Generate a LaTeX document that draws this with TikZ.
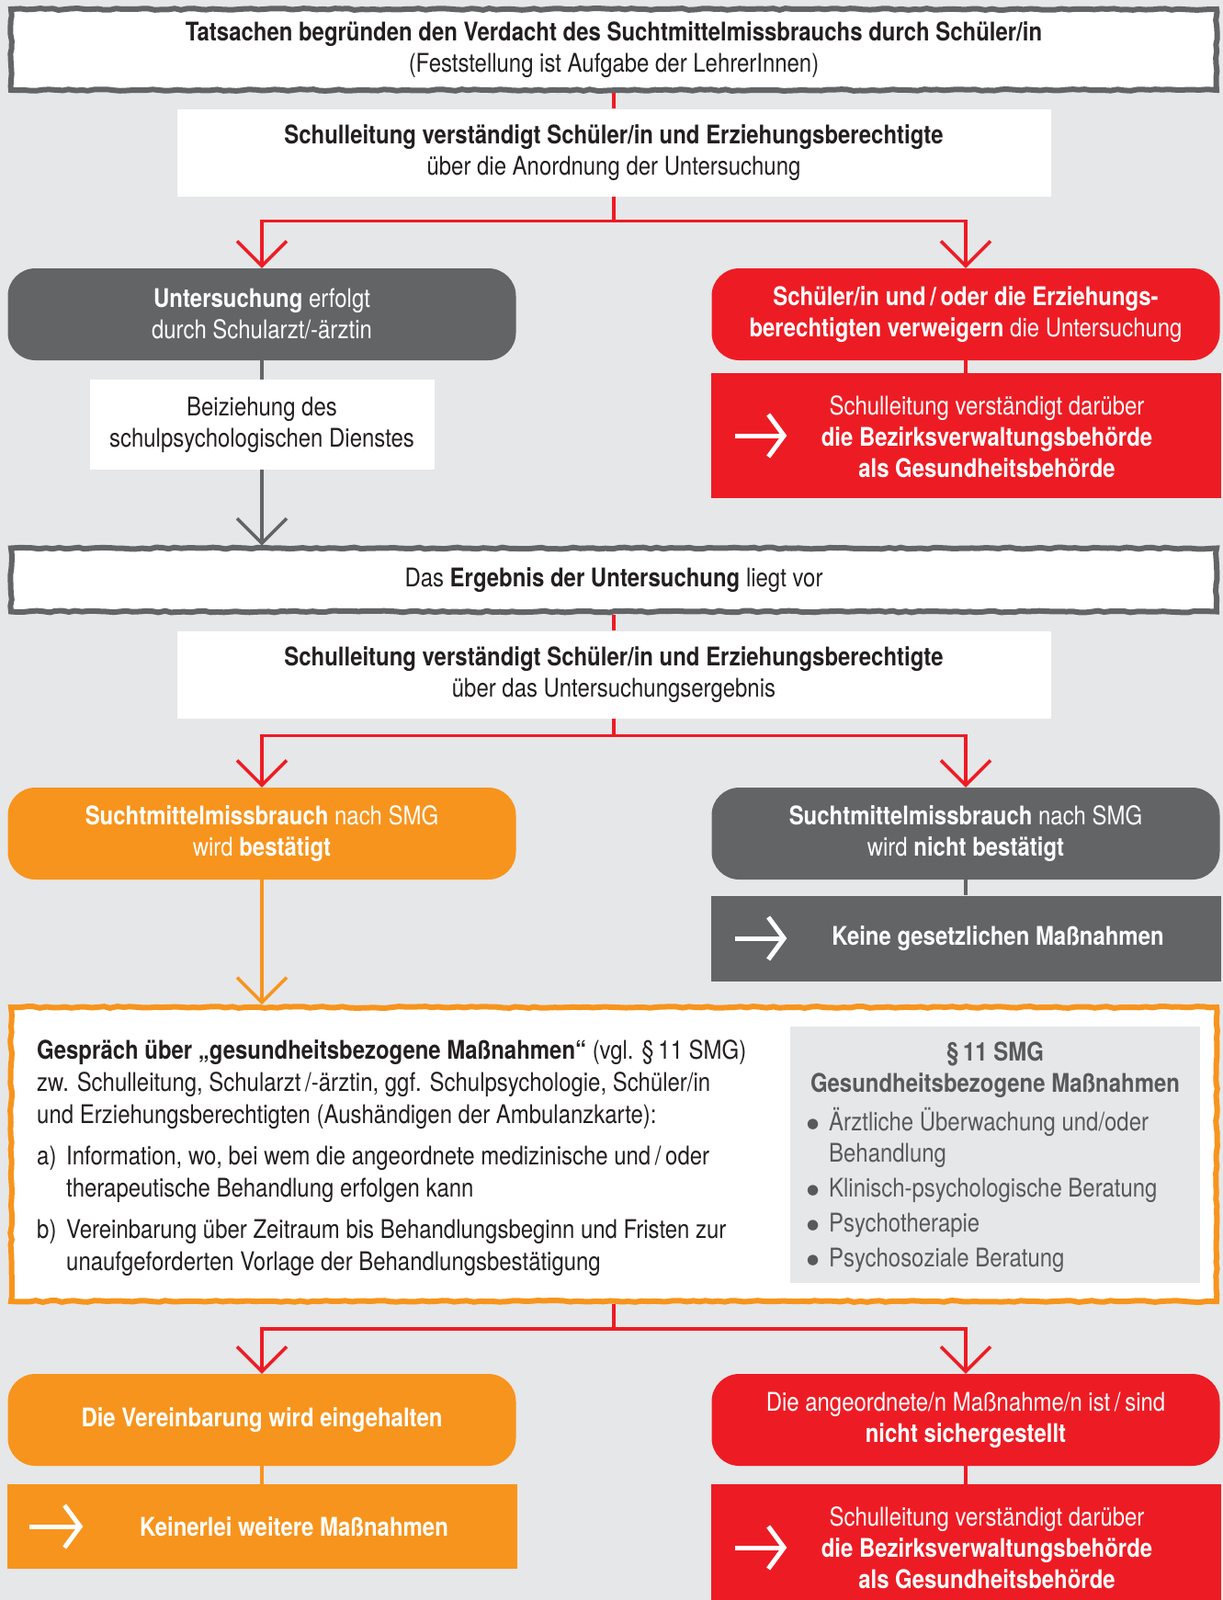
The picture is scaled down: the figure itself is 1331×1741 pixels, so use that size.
\documentclass[tikz,border=0pt]{standalone}
\usepackage{fontspec}
\setmainfont{TeX Gyre Heros}[FakeStretch=0.855]
\newfontfamily\dotfont{DejaVu Sans}
\usetikzlibrary{positioning,arrows.meta,decorations.pathmorphing}

\definecolor{bggrey}{HTML}{E6E7E8}
\definecolor{darkgrey}{HTML}{636466}
\definecolor{alarmred}{HTML}{ED1C24}
\definecolor{okorange}{HTML}{F7941D}
\definecolor{ink}{HTML}{231F20}
\definecolor{lawgrey}{HTML}{58595B}

\tikzset{
  rough/.style={decorate,decoration={random steps,segment length=7pt,amplitude=0.9pt}},
  headframe/.style={draw=darkgrey,line width=6pt,fill=white,rough,minimum width=1312pt,text=ink},
  infobox/.style={fill=white,text=ink,minimum width=951pt,minimum height=95pt},
  roundbox/.style={rounded corners=30pt,minimum width=553pt,minimum height=100pt,text=white},
  actionbox/.style={minimum width=555pt},
  redlink/.style={draw=alarmred,line width=3.5pt},
  greylink/.style={draw=darkgrey,line width=3.5pt},
  orangelink/.style={draw=okorange,line width=3.5pt},
  vhead/.style={-{Straight Barb[length=27pt,width=54pt]}},
  chalkarrow/.style={draw=white,line width=5pt,-{Straight Barb[length=17pt,width=46pt]}}
}
\newcommand{\smgitem}{\makebox[24pt][l]{\raisebox{2.5pt}{\dotfont\fontsize{15}{15}\selectfont ●}}}

\begin{document}
\begin{tikzpicture}[x=1pt,y=-1pt,
	every node/.style={font=\fontsize{28}{34}\selectfont,align=center,inner sep=0pt}]
\fill[bggrey] (0,0) rectangle (1331,1741);
\useasboundingbox (0,0) rectangle (1331,1741);
% Verdacht und Anordnung
\node[headframe,minimum height=88pt] (verdacht) at (668,54)
	{\textbf{Tatsachen begründen den Verdacht des Suchtmittelmissbrauchs durch Schüler/in}\\(Feststellung ist Aufgabe der LehrerInnen)};
\node[infobox] (infoA) at (668,166)
	{\textbf{Schulleitung verständigt Schüler/in und Erziehungsberechtigte}\\über die Anordnung der Untersuchung};
\node[roundbox,fill=darkgrey] (unters) at (285,342)
	{\textbf{Untersuchung} erfolgt\\durch Schularzt/-ärztin};
\node[roundbox,fill=alarmred] (verweig) at (1051,342)
	{\textbf{Schüler/in und\,/\,oder die Erziehungs-}\\\textbf{berechtigten verweigern} die Untersuchung};
\node[infobox,minimum width=375pt,minimum height=98pt] (beiz) at (285,462)
	{Beiziehung des\\schulpsychologischen Dienstes};
\node[actionbox,fill=alarmred,minimum height=136pt] (meldA) at (1051,474) {};
\node[text=white] (meldAtxt) at (1074,475)
	{Schulleitung verständigt darüber\\\textbf{die Bezirksverwaltungsbehörde}\\\textbf{als Gesundheitsbehörde}};
% Ergebnis
\node[headframe,minimum height=69pt] (ergebnis) at (668,631)
	{Das \textbf{Ergebnis der Untersuchung} liegt vor};
\node[infobox] (infoB) at (668,734)
	{\textbf{Schulleitung verständigt Schüler/in und Erziehungsberechtigte}\\über das Untersuchungsergebnis};
\node[roundbox,fill=okorange] (bestaet) at (285,907)
	{\textbf{Suchtmittelmissbrauch} nach SMG\\wird \textbf{bestätigt}};
\node[roundbox,fill=darkgrey] (nichtbest) at (1051,907)
	{\textbf{Suchtmittelmissbrauch} nach SMG\\wird \textbf{nicht bestätigt}};
\node[actionbox,fill=darkgrey,minimum height=93pt] (keine) at (1051,1021) {};
\node[text=white] (keinetxt) at (1086,1021) {\textbf{Keine gesetzlichen Maßnahmen}};
% Gespraech
\node[headframe,draw=okorange,minimum height=320pt] (gespr) at (668,1256) {};
\node[anchor=north west,align=left,text=ink,font=\fontsize{28}{35}\selectfont] (gesprtxt) at (40,1131)
	{\textbf{Gespräch über „gesundheitsbezogene Maßnahmen“} (vgl. §\,11 SMG)\\
	zw. Schulleitung, Schularzt\,/-ärztin, ggf. Schulpsychologie, Schüler/in\\
	und Erziehungsberechtigten (Aushändigen der Ambulanzkarte):\\[10pt]
	\makebox[32pt][l]{a)}Information, wo, bei wem die angeordnete medizinische und\,/\,oder\\
	\hspace*{32pt}therapeutische Behandlung erfolgen kann\\[10pt]
	\makebox[32pt][l]{b)}Vereinbarung über Zeitraum bis Behandlungsbeginn und Fristen zur\\
	\hspace*{32pt}unaufgeforderten Vorlage der Behandlungsbestätigung};
\node[fill=bggrey,minimum width=446pt,minimum height=279pt] (smgbox) at (1083,1256) {};
\node[anchor=north,text=lawgrey] (smgtitle) at (1083,1134)
	{\textbf{§\,11 SMG}\\\textbf{Gesundheitsbezogene Maßnahmen}};
\node[anchor=north west,align=left,text=lawgrey] (smglist) at (878,1205)
	{\smgitem Ärztliche Überwachung und/oder\\
	\hspace*{24pt}Behandlung\\[4pt]
	\smgitem Klinisch-psychologische Beratung\\[4pt]
	\smgitem Psychotherapie\\[4pt]
	\smgitem Psychosoziale Beratung};
% Ausgang
\node[roundbox,fill=okorange] (eingeh) at (285,1545) {\textbf{Die Vereinbarung wird eingehalten}};
\node[actionbox,fill=okorange,minimum height=92pt] (keinerlei) at (285,1661) {};
\node[text=white] (keinerleitxt) at (320,1661) {\textbf{Keinerlei weitere Maßnahmen}};
\node[roundbox,fill=alarmred] (nichtsich) at (1051,1545)
	{Die angeordnete/n Maßnahme/n ist\,/\,sind\\\textbf{nicht sichergestellt}};
\node[actionbox,fill=alarmred,minimum height=130pt] (meldB) at (1051,1680) {};
\node[text=white] (meldBtxt) at (1074,1684)
	{Schulleitung verständigt darüber\\\textbf{die Bezirksverwaltungsbehörde}\\\textbf{als Gesundheitsbehörde}};

% Verbindungen
\draw[redlink] (verdacht.south) -- (infoA.north);
\draw[redlink,vhead] (infoA.south) -- ++(0,27) -| (unters.north);
\draw[redlink,vhead] (infoA.south) -- ++(0,27) -| (verweig.north);
\draw[greylink] (unters.south) -- (beiz.north);
\draw[greylink,vhead] (beiz.south) -- (beiz.south |- ergebnis.north);
\draw[redlink] (verweig.south) -- (meldA.north);
\draw[redlink] (ergebnis.south) -- (infoB.north);
\draw[redlink,vhead] (infoB.south) -- ++(0,19) -| (bestaet.north);
\draw[redlink,vhead] (infoB.south) -- ++(0,19) -| (nichtbest.north);
\draw[orangelink,vhead] (bestaet.south) -- (bestaet.south |- gespr.north);
\draw[greylink] (nichtbest.south) -- (keine.north);
\draw[redlink,vhead] (gespr.south) -- ++(0,27) -| (eingeh.north);
\draw[redlink,vhead] (gespr.south) -- ++(0,27) -| (nichtsich.north);
\draw[orangelink] (eingeh.south) -- (keinerlei.north);
\draw[redlink] (nichtsich.south) -- (meldB.north);
% weisse Pfeile
\draw[chalkarrow] ([xshift=27pt]meldA.west) -- ++(56,0);
\draw[chalkarrow] ([xshift=27pt]keine.west) -- ++(56,0);
\draw[chalkarrow] ([xshift=25pt]keinerlei.west) -- ++(58,0);
\draw[chalkarrow] ([xshift=27pt,yshift=-4pt]meldB.west) -- ++(56,0);
\end{tikzpicture}
\end{document}
